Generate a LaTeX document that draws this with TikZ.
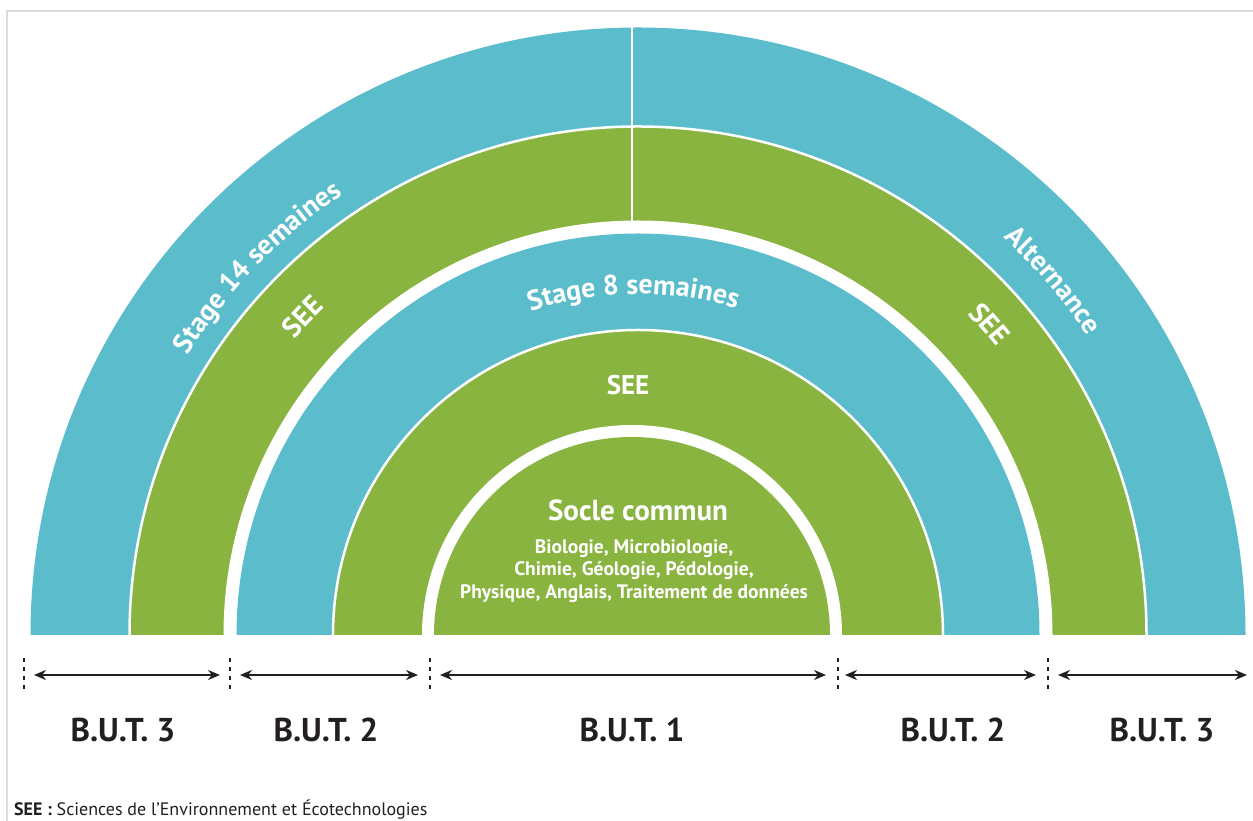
\documentclass[tikz,border=0pt]{standalone}
\usepackage{fontspec}
\setmainfont{PT Sans}
\usetikzlibrary{arrows.meta,decorations.text}
\definecolor{bandblue}{HTML}{5BBDCB}
\definecolor{bandgreen}{HTML}{8AB440}
\definecolor{inkdark}{HTML}{231F20}
\definecolor{framegray}{HTML}{DCDCDC}
\newcommand\arcfont{\fontsize{28}{28}\selectfont\bfseries}
\begin{document}
\begin{tikzpicture}[x=1pt,y=1pt,
  sepline/.style={white,line width=2.5pt},
  tickline/.style={inkdark,line width=2.6pt,dash pattern=on 4pt off 5pt},
  arr/.style={inkdark,line width=2.6pt,{Stealth[length=12pt,width=10pt]}-{Stealth[length=12pt,width=10pt]}},
  butlabel/.style={inkdark,font=\fontsize{33}{33}\selectfont\bfseries},
  whitetext/.style={white,align=center},
  arctext/.style={decorate,decoration={text along path,text align=center,text color=white}}
]
\useasboundingbox (0,0) rectangle (1253,821);
% frame
\draw[framegray,line width=2pt] (7,0) -- (7,810) -- (1253,810);
\coordinate (C) at (638,186);
\coordinate (Ci) at (632,186);
% bands
\fill[bandblue] (C) ++(607.5pt,0) arc[start angle=0,end angle=180,radius=607.5pt] -- cycle;
\fill[bandgreen] (C) ++(508.5pt,0) arc[start angle=0,end angle=180,radius=508.5pt] -- cycle;
\fill[white] (C) ++(414.5pt,0) arc[start angle=0,end angle=180,radius=414.5pt] -- cycle;
\fill[bandblue] (C) ++(401.5pt,0) arc[start angle=0,end angle=180,radius=401.5pt] -- cycle;
\fill[bandgreen] (C) ++(305pt,0) arc[start angle=0,end angle=180,radius=305pt] -- cycle;
\fill[white] (Ci) ++(210pt,0) arc[start angle=0,end angle=180,radius=210pt] -- cycle;
\fill[bandgreen] (Ci) ++(198pt,0) arc[start angle=0,end angle=180,radius=198pt] -- cycle;
% separators
\draw[sepline] (C) ++(508.5pt,0) arc[start angle=0,end angle=180,radius=508.5pt];
\draw[sepline] (C) ++(305pt,0) arc[start angle=0,end angle=180,radius=305pt];
\coordinate (vtop) at (632,795);
\coordinate (vbot) at (632,600);
\draw[white,line width=2.5pt] (vbot) -- (vtop);
% curved labels
\path[arctext,decoration={text={|\arcfont|Stage 14 semaines}}]
  (C) ++(166:530pt) arc[start angle=166,end angle=106,radius=530pt];
\path[arctext,decoration={text={|\arcfont|SEE}}]
  (C) ++(166.5:453pt) arc[start angle=166.5,end angle=106.5,radius=453pt];
\path[arctext,decoration={text={|\arcfont|Alternance}}]
  (C) ++(70.5:540pt) arc[start angle=70.5,end angle=10.5,radius=540pt];
\path[arctext,decoration={text={|\arcfont|SEE}}]
  (C) ++(71.5:460pt) arc[start angle=71.5,end angle=11.5,radius=460pt];
\path[arctext,decoration={text={|\arcfont|Stage 8 semaines}}]
  (C) ++(130.8:341pt) arc[start angle=130.8,end angle=50.8,radius=341pt];
% straight labels
\node[whitetext,font=\fontsize{27}{27}\selectfont\bfseries] (seein) at (628,436) {SEE};
\node[whitetext,font=\fontsize{29}{29}\selectfont\bfseries] (socle) at (638,311) {Socle commun};
\node[whitetext,font=\fontsize{19.5}{22.5}\selectfont\bfseries] (subj) at (634,250)
  {Biologie, Microbiologie,\\Chimie, Géologie, Pédologie,\\Physique, Anglais, Traitement de données};
% ticks and arrows
\coordinate (t0) at (24,146);
\coordinate (t1) at (230,146);
\coordinate (t2) at (430,146);
\coordinate (t3) at (838,146);
\coordinate (t4) at (1048,146);
\coordinate (t5) at (1253,146);
\foreach \t in {t0,t1,t2,t3,t4}{
  \draw[tickline] (\t) ++(0,17) -- ++(0,-34);
}
\draw[arr,shorten <=10pt,shorten >=10pt] (t0) -- (t1);
\draw[arr,shorten <=10pt,shorten >=12pt] (t1) -- (t2);
\draw[arr,shorten <=10pt,shorten >=12pt] (t2) -- (t3);
\draw[arr,shorten <=7pt,shorten >=12pt] (t3) -- (t4);
\draw[arr,shorten <=10pt,shorten >=6pt] (t4) -- (t5);
% year labels
\node[butlabel] (b3l) at (123,91) {B.U.T. 3};
\node[butlabel] (b2l) at (326,91) {B.U.T. 2};
\node[butlabel] (b1) at (632,91) {B.U.T. 1};
\node[butlabel] (b2r) at (953,91) {B.U.T. 2};
\node[butlabel] (b3r) at (1162,91) {B.U.T. 3};
% footnote
\node[inkdark,anchor=base west,inner sep=0pt,font=\fontsize{18}{18}\selectfont] (foot) at (14,5)
  {\textbf{SEE :} Sciences de l’Environnement et Écotechnologies};
\end{tikzpicture}
\end{document}
